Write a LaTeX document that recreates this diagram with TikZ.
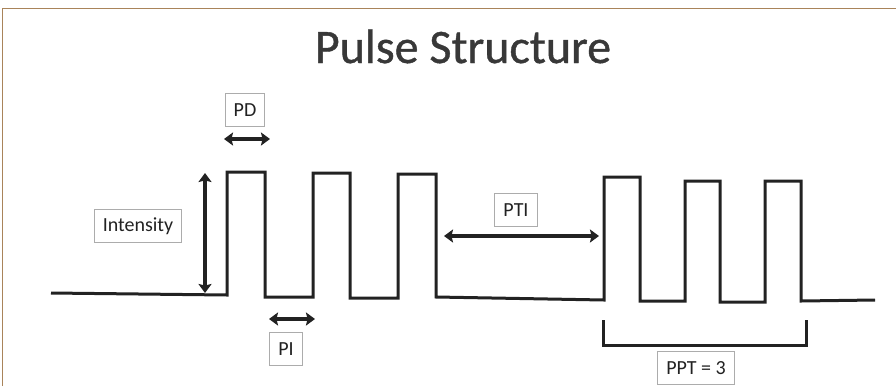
\documentclass[tikz,border=0pt]{standalone}
\usepackage{fontspec}
\setmainfont{Carlito}
\newfontfamily\titlefont[FakeBold=0.9]{Carlito}
\usetikzlibrary{arrows.meta,positioning}

\definecolor{framebrown}{HTML}{A9845A}
\definecolor{inkgray}{HTML}{222222}
\tikzset{
    pulse/.style   = {line width=3pt, color=inkgray, line join=miter},
    span/.style    = {line width=3.2pt, color=inkgray,
                      {Triangle[length=9pt,width=13pt,inset=1.5pt]}-{Triangle[length=9pt,width=13pt,inset=1.5pt]}},
    labelbox/.style = {draw=gray!65, line width=1pt, fill=white, text=inkgray,
                      inner xsep=8.5pt, inner ysep=0pt, minimum height=33pt,
                      font=\fontsize{20}{22}\selectfont}
}

\begin{document}
\begin{tikzpicture}[x=1pt, y=-1pt]
    \useasboundingbox (0,0) rectangle (896,386);
    % frame
    \draw[framebrown, line width=1.6pt] (2.5,386) -- (2.5,8.5) -- (896,8.5);

    \node[anchor=base, text=inkgray!90, font=\titlefont\fontsize{48}{52}\selectfont] (title) at (463,63) {Pulse Structure};

    % pulse train
    \draw[pulse] (51,293) -- (227,295)
        -- (227,172) -- (265,172) -- (265,297) -- (313,297)
        -- (313,173) -- (350,173) -- (350,298) -- (398,298)
        -- (398,174) -- (436,174) -- (436,297) -- (604,300)
        -- (604,177) -- (640,177) -- (640,301) -- (685,301)
        -- (685,181) -- (720,181) -- (720,302) -- (765,302)
        -- (765,181) -- (801,181) -- (801,301) -- (875,300);

    % arrow ends
    \coordinate (int top) at (205,173);
    \coordinate (int bot) at (205,293);
    \coordinate (pd left) at (224,139);
    \coordinate (pd right) at (270,139);
    \coordinate (pi left) at (269,319);
    \coordinate (pi right) at (315,319);
    \coordinate (pti left) at (444,236);
    \coordinate (pti right) at (599,236);
    \coordinate (ppt left) at (603,320);
    \coordinate (ppt right) at (806,320);

    \draw[span] (int top) -- (int bot);
    \draw[span] (pd left) -- (pd right);
    \draw[span] (pi left) -- (pi right);
    \draw[span] (pti left) -- (pti right);
    \draw[pulse] (ppt left) -- ++(0,25) -| (ppt right);

    % labels
    \node[labelbox] (intensity) at (138,226) {Intensity};
    \node[labelbox] (pd) at (245,110) {PD};
    \node[labelbox] (pi) at (286,349) {PI};
    \node[labelbox] (pti) at (516,210) {PTI};
    \node[labelbox] (ppt) at (696,368) {PPT = 3};
\end{tikzpicture}
\end{document}
